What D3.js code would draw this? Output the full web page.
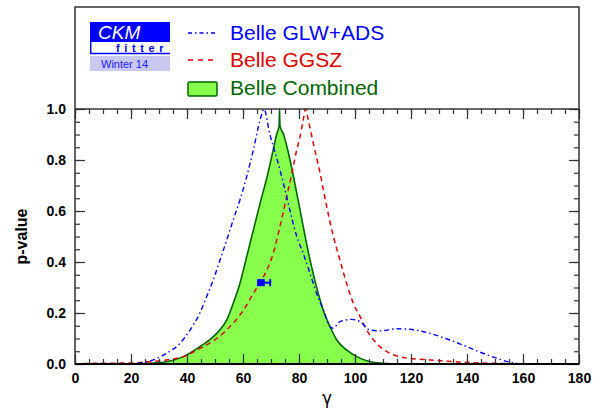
<!DOCTYPE html>
<html>
<head>
<meta charset="utf-8">
<script src="https://cdn.jsdelivr.net/npm/d3@7"></script>
<style>
  body { margin: 0; background: #fff; }
  text { font-family: "Liberation Sans", Arial, sans-serif; }
</style>
</head>
<body>
<script>
// p-value scans of gamma (Winter 14)
var gammaGLW = [18, 24, 28, 32.7, 37.5, 41.1, 44.6, 47, 49.4, 51.8, 54.2, 56.5, 58.9, 61.3, 63.7, 66.1, 67.5,
                69.6, 72, 74.4, 76.8, 79.2, 81.5, 83.9, 86.3, 88.7, 91.1, 92.2, 94.6, 98.8, 101.8, 105.4, 108.9,
                114.9, 119.6, 126.8, 133.9, 139.9, 145, 150, 155, 158, 162]
var pGLW = [0, 0.005, 0.016, 0.042, 0.081, 0.133, 0.2, 0.264, 0.33, 0.408, 0.486, 0.565, 0.643, 0.734, 0.84, 0.957, 1.0,
            0.9, 0.81, 0.71, 0.6, 0.5, 0.434, 0.356, 0.277, 0.212, 0.146, 0.14, 0.166, 0.175, 0.166, 0.133, 0.13,
            0.138, 0.136, 0.12, 0.094, 0.068, 0.045, 0.025, 0.008, 0.002, 0]

var gammaGGSZ = [3, 10, 20, 26.8, 32.7, 38.7, 44.6, 50.6, 56.5, 60.1, 63.7, 67.3, 70.8, 73.2, 75.6, 77.5, 79.2, 80.1,
                 81.5, 82.3, 83.3, 85.1, 87.5, 89.9, 92.3, 94.6, 97, 99.4, 101.8, 104.2, 107.7, 112.5, 119.6, 126.8,
                 135, 145, 155]
var pGGSZ = [0.002, 0.003, 0.004, 0.009, 0.016, 0.029, 0.061, 0.1, 0.16, 0.21, 0.277, 0.342, 0.434, 0.54, 0.656, 0.75, 0.84, 0.878,
             0.957, 1.0, 0.957, 0.866, 0.75, 0.617, 0.5, 0.408, 0.316, 0.238, 0.186, 0.133, 0.081, 0.042, 0.022, 0.016,
             0.009, 0.004, 0.002]

var gammaComb = [15, 20, 26.8, 32.7, 38.7, 44.6, 50.6, 54.2, 56.5, 58.9, 61.3, 63.7, 66.1, 68.5, 70.8, 72, 72.9, 73.05,
                 73.2, 74.5, 76.8, 79.2, 81.5, 83.9, 86.3, 88.7, 91.1, 93.5, 97, 100.6, 105.4, 110, 115, 120]
var pComb = [0, 0, 0.003, 0.009, 0.029, 0.068, 0.12, 0.173, 0.238, 0.316, 0.42, 0.525, 0.63, 0.73, 0.84, 0.9, 0.935, 1.0,
             0.935, 0.9, 0.8, 0.67, 0.54, 0.41, 0.30, 0.21, 0.146, 0.094, 0.055, 0.029, 0.009, 0.003, 0, 0]

// measured point with horizontal error bar
var pointGamma = [66.5]
var pointLo = [65.3]
var pointHi = [69.7]
var pointP = [0.319]

var xTicks = [0, 20, 40, 60, 80, 100, 120, 140, 160, 180]
var yTicks = [0, 0.2, 0.4, 0.6, 0.8, 1.0]

var legendNames = ["Belle GLW+ADS", "Belle GGSZ", "Belle Combined"]
var legendColors = ["#0000ff", "#dd0000", "#006600"]

var screen = {width: 603, height: 411}
var margins = {top: 109, bottom: 47, left: 75, right: 24}
var width = screen.width - margins.left - margins.right
var height = screen.height - margins.top - margins.bottom

var xScale = d3.scaleLinear().domain([0, 180]).range([0, width])
var yScale = d3.scaleLinear().domain([0, 1]).range([height, 0])

var svg = d3.select("body").append("svg")
    .attr("width", screen.width)
    .attr("height", screen.height)

var plot = svg.append("g")
    .attr("transform", "translate(" + margins.left + "," + margins.top + ")")

// green combined area
var toPts = function(xs, ys) { return xs.map(function(x, i) { return [x, ys[i]] }) }

plot.append("path")
    .datum(toPts(gammaComb, pComb))
    .attr("fill", "#88ff4c")
    .attr("d", d3.area()
        .x(function(d) { return xScale(d[0]) })
        .y0(yScale(0))
        .y1(function(d) { return yScale(d[1]) })
        .curve(d3.curveMonotoneX))

var line = d3.line()
    .x(function(d) { return xScale(d[0]) })
    .y(function(d) { return yScale(d[1]) })
    .curve(d3.curveMonotoneX)

plot.append("path")
    .datum(toPts(gammaComb, pComb))
    .attr("fill", "none")
    .attr("stroke", "#006600")
    .attr("stroke-width", 1.6)
    .attr("d", line)

plot.append("path")
    .datum(toPts(gammaGGSZ, pGGSZ))
    .attr("fill", "none")
    .attr("stroke", "#dd0000")
    .attr("stroke-width", 1.5)
    .attr("stroke-dasharray", "5,4")
    .attr("d", line)

plot.append("path")
    .datum(toPts(gammaGLW, pGLW))
    .attr("fill", "none")
    .attr("stroke", "#0000ff")
    .attr("stroke-width", 1.4)
    .attr("stroke-dasharray", "5,3,1.5,3")
    .attr("d", line)

// data point
var pt = plot.append("g").attr("fill", "#0000ff").attr("stroke", "#0000ff")
pt.selectAll("line.bar").data(pointGamma).enter().append("line")
    .attr("x1", function(d, i) { return xScale(pointLo[i]) })
    .attr("x2", function(d, i) { return xScale(pointHi[i]) })
    .attr("y1", function(d, i) { return yScale(pointP[i]) })
    .attr("y2", function(d, i) { return yScale(pointP[i]) })
    .attr("stroke-width", 2)
pt.selectAll("line.capl").data(pointGamma).enter().append("line")
    .attr("x1", function(d, i) { return xScale(pointHi[i]) })
    .attr("x2", function(d, i) { return xScale(pointHi[i]) })
    .attr("y1", function(d, i) { return yScale(pointP[i]) - 3.5 })
    .attr("y2", function(d, i) { return yScale(pointP[i]) + 3.5 })
    .attr("stroke-width", 2)
pt.selectAll("line.capr").data(pointGamma).enter().append("line")
    .attr("x1", function(d, i) { return xScale(pointLo[i]) })
    .attr("x2", function(d, i) { return xScale(pointLo[i]) })
    .attr("y1", function(d, i) { return yScale(pointP[i]) - 3.5 })
    .attr("y2", function(d, i) { return yScale(pointP[i]) + 3.5 })
    .attr("stroke-width", 1.5)
pt.selectAll("rect").data(pointGamma).enter().append("rect")
    .attr("x", function(d) { return xScale(d) - 3 })
    .attr("y", function(d, i) { return yScale(pointP[i]) - 3 })
    .attr("width", 6).attr("height", 6)

// axes, ticks all pointing inward
var minorX = d3.range(0, 181, 5)
var minorY = d3.range(0, 1.001, 0.05)

var addAxis = function(axis, tx, ty, labels)
{
    var g = svg.append("g")
        .attr("transform", "translate(" + tx + "," + ty + ")")
        .call(axis)
    g.select(".domain").remove()
    g.selectAll("line").attr("stroke", "#333").attr("stroke-width", 1.2)
    g.selectAll("text")
        .style("font-size", "14px")
        .style("font-weight", "bold")
        .attr("fill", "#000")
    return g
}

addAxis(d3.axisBottom(xScale).tickValues(minorX).tickSize(-5).tickFormat(""), margins.left, margins.top + height)
addAxis(d3.axisBottom(xScale).tickValues(xTicks).tickSize(-10).tickPadding(9).tickFormat(d3.format("d")), margins.left, margins.top + height)
addAxis(d3.axisTop(xScale).tickValues(minorX).tickSize(-5).tickFormat(""), margins.left, margins.top)
addAxis(d3.axisTop(xScale).tickValues(xTicks).tickSize(-10).tickFormat(""), margins.left, margins.top)
addAxis(d3.axisLeft(yScale).tickValues(minorY).tickSize(-5).tickFormat(""), margins.left, margins.top)
addAxis(d3.axisLeft(yScale).tickValues(yTicks).tickSize(-10).tickPadding(9).tickFormat(d3.format(".1f")), margins.left, margins.top)
addAxis(d3.axisRight(yScale).tickValues(minorY).tickSize(-5).tickFormat(""), margins.left + width, margins.top)
addAxis(d3.axisRight(yScale).tickValues(yTicks).tickSize(-10).tickFormat(""), margins.left + width, margins.top)

// frame (plot box plus legend box above it)
svg.append("rect")
    .attr("x", margins.left).attr("y", 7)
    .attr("width", width).attr("height", margins.top + height - 7)
    .attr("fill", "none").attr("stroke", "#333").attr("stroke-width", 1.5)
svg.append("line")
    .attr("x1", margins.left).attr("x2", margins.left + width)
    .attr("y1", margins.top).attr("y2", margins.top)
    .attr("stroke", "#333").attr("stroke-width", 1.5)
svg.append("line")
    .attr("x1", margins.left).attr("x2", margins.left + width)
    .attr("y1", margins.top + height).attr("y2", margins.top + height)
    .attr("stroke", "#000").attr("stroke-width", 2)

// axis titles
svg.append("text")
    .attr("transform", "translate(27," + (margins.top + height / 2) + ") rotate(-90)")
    .style("text-anchor", "middle")
    .style("font-size", "16px")
    .style("font-weight", "bold")
    .text("p-value")

svg.append("text")
    .attr("x", margins.left + width / 2)
    .attr("y", 404)
    .style("text-anchor", "middle")
    .style("font-size", "17px")
    .style("font-family", "'DejaVu Sans', sans-serif")
    .text("γ")

// CKMfitter logo
var logo = svg.append("g")
logo.append("rect").attr("x", 90).attr("y", 22).attr("width", 80).attr("height", 20).attr("fill", "#0000ff")
logo.append("text").attr("x", 98).attr("y", 39)
    .style("font-size", "19px").style("font-style", "italic").attr("fill", "#fff").text("CKM")
logo.append("path").attr("d", "M90.7,42 V53.5 H170").attr("fill", "none").attr("stroke", "#0000ff").attr("stroke-width", 1.5)
logo.append("text").attr("x", 116).attr("y", 51.5)
    .style("font-size", "11px").style("font-weight", "bold").style("letter-spacing", "4.6px")
    .attr("fill", "#0000ff").text("fitter")
logo.append("rect").attr("x", 90).attr("y", 56).attr("width", 80).attr("height", 15).attr("fill", "#c8c8f0")
logo.append("text").attr("x", 101).attr("y", 67.5)
    .style("font-size", "11px").attr("fill", "#1a1aff").text("Winter 14")

// legend
var legY = [33, 60, 88]
var leg = svg.append("g")
leg.append("line").attr("x1", 188).attr("x2", 217).attr("y1", legY[0]).attr("y2", legY[0])
    .attr("stroke", legendColors[0]).attr("stroke-width", 1.4).attr("stroke-dasharray", "4,3,1.5,3")
leg.append("line").attr("x1", 188).attr("x2", 217).attr("y1", legY[1]).attr("y2", legY[1])
    .attr("stroke", legendColors[1]).attr("stroke-width", 1.5).attr("stroke-dasharray", "5,5")
leg.append("rect").attr("x", 188).attr("y", 82).attr("width", 29).attr("height", 14).attr("rx", 1.5)
    .attr("fill", "#88ff4c").attr("stroke", "#006600").attr("stroke-width", 1.5)
leg.selectAll("text.leg").data(legendNames).enter().append("text")
    .attr("x", 230)
    .attr("y", function(d, i) { return legY[i] + 7 })
    .attr("fill", function(d, i) { return legendColors[i] })
    .style("font-size", "21px")
    .text(function(d) { return d })
</script>
</body>
</html>
